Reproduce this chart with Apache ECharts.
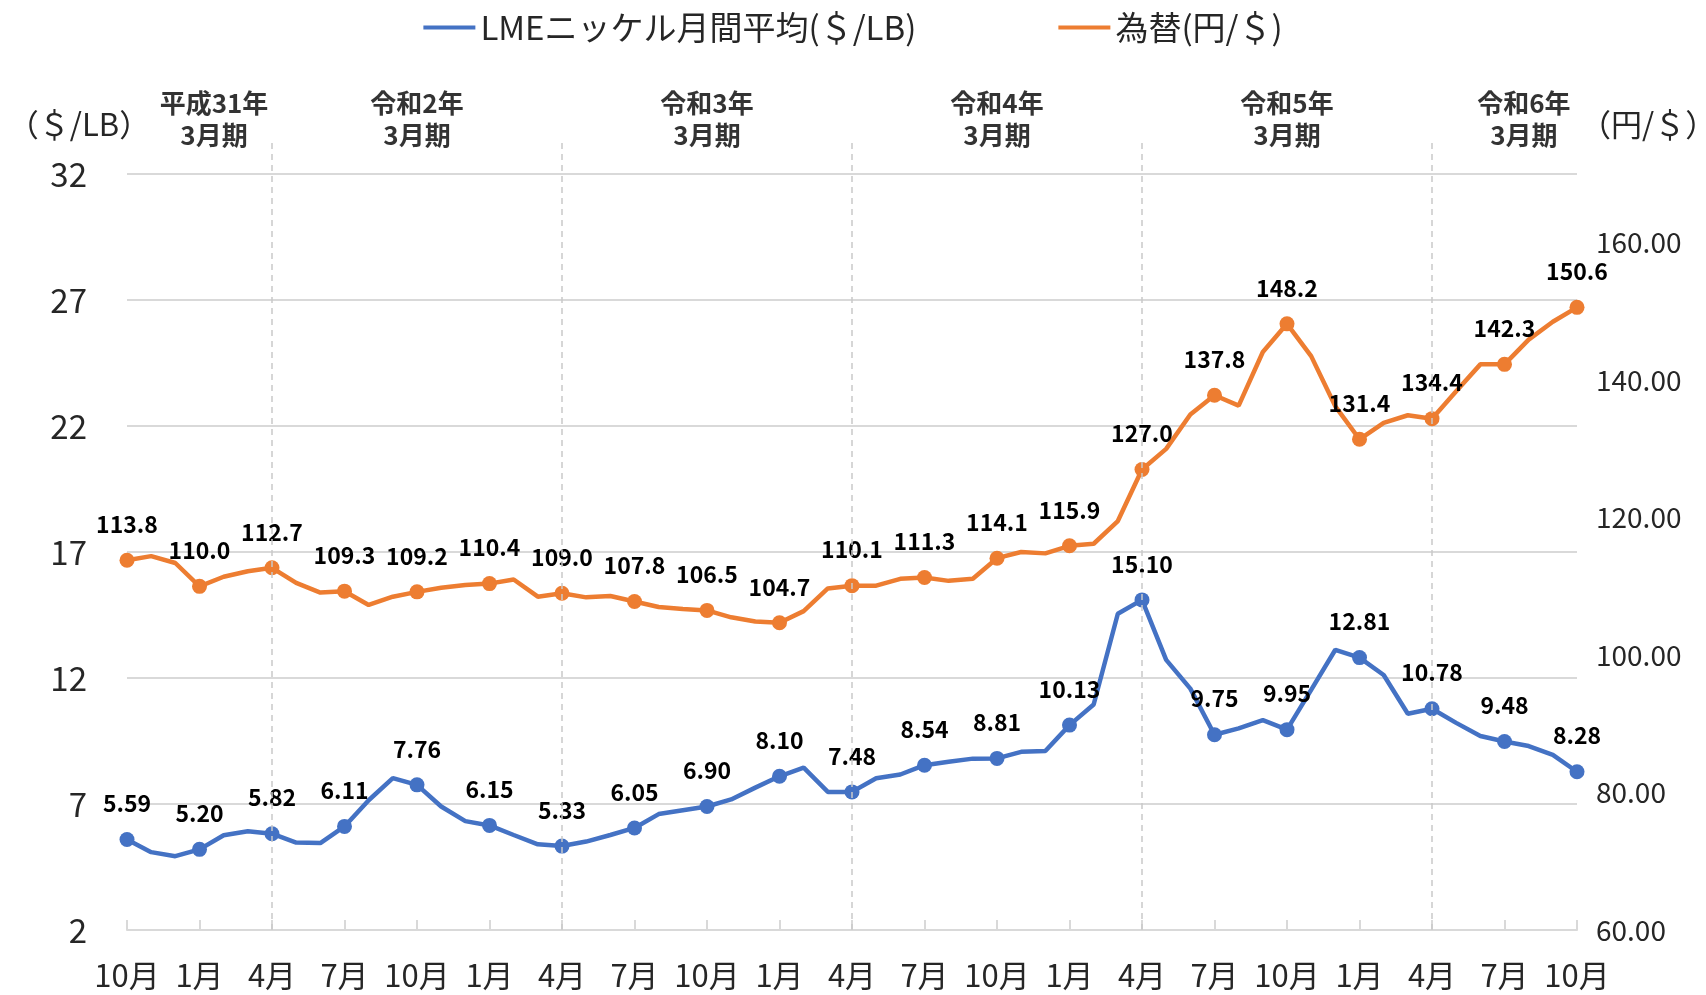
<!DOCTYPE html>
<html>
<head>
<meta charset="utf-8">
<title>LMEニッケル月間平均と為替</title>
<script src="https://cdn.jsdelivr.net/npm/echarts@6.0.0/dist/echarts.min.js"></script>
<style>
  html, body { margin: 0; padding: 0; background: #fff; }
  #myChart { width: 1706px; height: 995px; }
</style>
</head>
<body>
<div id="myChart"></div>
<script>
  // 月（2018年10月〜2023年10月）
  const months = [
    '10月', '11月', '12月',
    '1月', '2月', '3月', '4月', '5月', '6月', '7月', '8月', '9月', '10月', '11月', '12月',
    '1月', '2月', '3月', '4月', '5月', '6月', '7月', '8月', '9月', '10月', '11月', '12月',
    '1月', '2月', '3月', '4月', '5月', '6月', '7月', '8月', '9月', '10月', '11月', '12月',
    '1月', '2月', '3月', '4月', '5月', '6月', '7月', '8月', '9月', '10月', '11月', '12月',
    '1月', '2月', '3月', '4月', '5月', '6月', '7月', '8月', '9月', '10月'
  ];

  // LMEニッケル月間平均（＄/LB）
  const nickel = [
    5.59, 5.09, 4.93,
    5.20, 5.76, 5.92, 5.82, 5.47, 5.45, 6.11, 7.15, 8.03, 7.76, 6.90, 6.32,
    6.15, 5.77, 5.40, 5.33, 5.51, 5.77, 6.05, 6.60, 6.75, 6.90, 7.18, 7.65,
    8.10, 8.44, 7.48, 7.48, 8.02, 8.17, 8.54, 8.68, 8.80, 8.81, 9.07, 9.10,
    10.13, 10.95, 14.55, 15.10, 12.72, 11.58, 9.75, 10.00, 10.33, 9.95, 11.53, 13.12,
    12.81, 12.12, 10.58, 10.78, 10.22, 9.70, 9.48, 9.30, 8.95, 8.28
  ];

  // 為替（円/＄）
  const yen = [
    113.8, 114.4, 113.4,
    110.0, 111.4, 112.2, 112.7, 110.5, 109.1, 109.3, 107.3, 108.5, 109.2, 109.8, 110.2,
    110.4, 111.0, 108.5, 109.0, 108.4, 108.6, 107.8, 107.0, 106.7, 106.5, 105.5, 104.9,
    104.7, 106.4, 109.7, 110.1, 110.1, 111.1, 111.3, 110.8, 111.1, 114.1, 115.0, 114.8,
    115.9, 116.2, 119.5, 127.0, 130.0, 135.0, 137.8, 136.3, 144.1, 148.2, 143.5, 136.2,
    131.4, 133.8, 134.9, 134.4, 138.4, 142.3, 142.3, 145.9, 148.5, 150.6
  ];

  // 決算期の見出しと、その中心の位置（月のインデックス）
  const fiscalNames = ['平成31年\n3月期', '令和2年\n3月期', '令和3年\n3月期', '令和4年\n3月期', '令和5年\n3月期', '令和6年\n3月期'];
  const fiscalPos = [3.6, 12, 24, 36, 48, 57.8];
  // 期の区切り（4月）
  const fiscalBreaks = [6, 18, 30, 42, 54];

  const leftTicks = { min: 2, max: 32, interval: 5 };
  const rightTicks = { min: 60, max: 170, interval: 20 };

  const FONT = '"Noto Sans CJK JP", "Noto Sans", sans-serif';
  const BLUE = '#4472C4';
  const ORANGE = '#ED7D31';
  const TEXT = '#262626';

  let myChart = echarts.init(document.getElementById('myChart'));

  // 3か月ごとにマーカーとラベルを表示
  const every3 = (p) => p.dataIndex % 3 === 0;

  myChart.setOption({
    backgroundColor: '#fff',
    textStyle: { fontFamily: FONT },
    animation: false,
    legend: {
      data: ['LMEニッケル月間平均(＄/LB)', '為替(円/＄)'],
      top: 6,
      left: 'center',
      icon: 'rect',
      itemWidth: 52,
      itemHeight: 4,
      itemGap: 142,
      textStyle: { fontSize: 33, color: TEXT, fontFamily: FONT }
    },
    grid: [
      // 区切り線と期の見出し用
      { left: 127, right: 129, top: 141, bottom: 65, outerBoundsMode: 'none' },
      // 本体
      { left: 127, right: 129, top: 174, bottom: 65, outerBoundsMode: 'none' }
    ],
    xAxis: [
      { gridIndex: 0, type: 'value', min: 0, max: months.length - 1, show: false },
      {
        gridIndex: 1,
        type: 'category',
        data: months,
        boundaryGap: false,
        axisLine: { lineStyle: { color: '#d9d9d9', width: 2 } },
        axisTick: { inside: true, interval: 2, length: 10, lineStyle: { color: '#d9d9d9', width: 2 } },
        axisLabel: { interval: 2, fontSize: 31, color: TEXT, margin: 30, fontFamily: FONT }
      }
    ],
    yAxis: [
      { gridIndex: 0, type: 'value', min: 0, max: 1, show: false },
      {
        gridIndex: 1,
        type: 'value',
        min: leftTicks.min,
        max: leftTicks.max,
        interval: leftTicks.interval,
        name: '（＄/LB）',
        nameLocation: 'end',
        nameGap: 34,
        nameTextStyle: { fontSize: 31, color: TEXT, align: 'center', padding: [0, 96, 0, 0], fontFamily: FONT },
        axisLine: { show: false },
        axisTick: { show: false },
        axisLabel: { fontSize: 33, color: TEXT, margin: 40, fontFamily: FONT },
        splitLine: { lineStyle: { color: '#d9d9d9', width: 2 } }
      },
      {
        gridIndex: 1,
        type: 'value',
        position: 'right',
        min: rightTicks.min,
        max: rightTicks.max,
        interval: rightTicks.interval,
        name: '（円/＄）',
        nameLocation: 'end',
        nameGap: 34,
        nameTextStyle: { fontSize: 31, color: TEXT, align: 'left', padding: [0, 0, 0, 3], fontFamily: FONT },
        axisLine: { show: false },
        axisTick: { show: false },
        axisLabel: {
          fontSize: 28, color: TEXT, margin: 19, showMaxLabel: false, fontFamily: FONT,
          formatter: (v) => v.toFixed(2)
        },
        splitLine: { show: false }
      }
    ],
    series: [
      {
        name: 'fiscal',
        type: 'scatter',
        xAxisIndex: 0,
        yAxisIndex: 0,
        symbolSize: 0,
        silent: true,
        data: fiscalPos.map((x, i) => ({ value: [x, 1], name: fiscalNames[i] })),
        label: {
          show: true,
          position: 'inside',
          offset: [0, -22],
          formatter: (p) => p.name,
          fontSize: 26,
          fontWeight: 'bold',
          lineHeight: 32,
          color: '#000',
          fontFamily: FONT
        },
        markLine: {
          silent: true,
          symbol: 'none',
          label: { show: false },
          lineStyle: { type: [6, 5], color: '#c9c9c9', width: 1.5 },
          data: fiscalBreaks.map((x) => ({ xAxis: x }))
        },
        z: 1
      },
      {
        name: 'LMEニッケル月間平均(＄/LB)',
        type: 'line',
        xAxisIndex: 1,
        yAxisIndex: 1,
        data: nickel,
        color: BLUE,
        lineStyle: { width: 4.5 },
        showAllSymbol: true,
        symbol: (v, p) => (every3(p) ? 'circle' : 'none'),
        symbolSize: 15,
        label: {
          show: true,
          position: 'top',
          distance: 17,
          formatter: (p) => (every3(p) ? p.value.toFixed(2) : ''),
          fontSize: 23,
          fontWeight: 'bold',
          color: '#000',
          fontFamily: FONT
        },
        z: 3
      },
      {
        name: '為替(円/＄)',
        type: 'line',
        xAxisIndex: 1,
        yAxisIndex: 2,
        data: yen,
        color: ORANGE,
        lineStyle: { width: 4.5 },
        showAllSymbol: true,
        symbol: (v, p) => (every3(p) ? 'circle' : 'none'),
        symbolSize: 15,
        label: {
          show: true,
          position: 'top',
          distance: 17,
          formatter: (p) => (every3(p) ? p.value.toFixed(1) : ''),
          fontSize: 23,
          fontWeight: 'bold',
          color: '#000',
          fontFamily: FONT
        },
        z: 3
      }
    ]
  });
</script>
</body>
</html>
